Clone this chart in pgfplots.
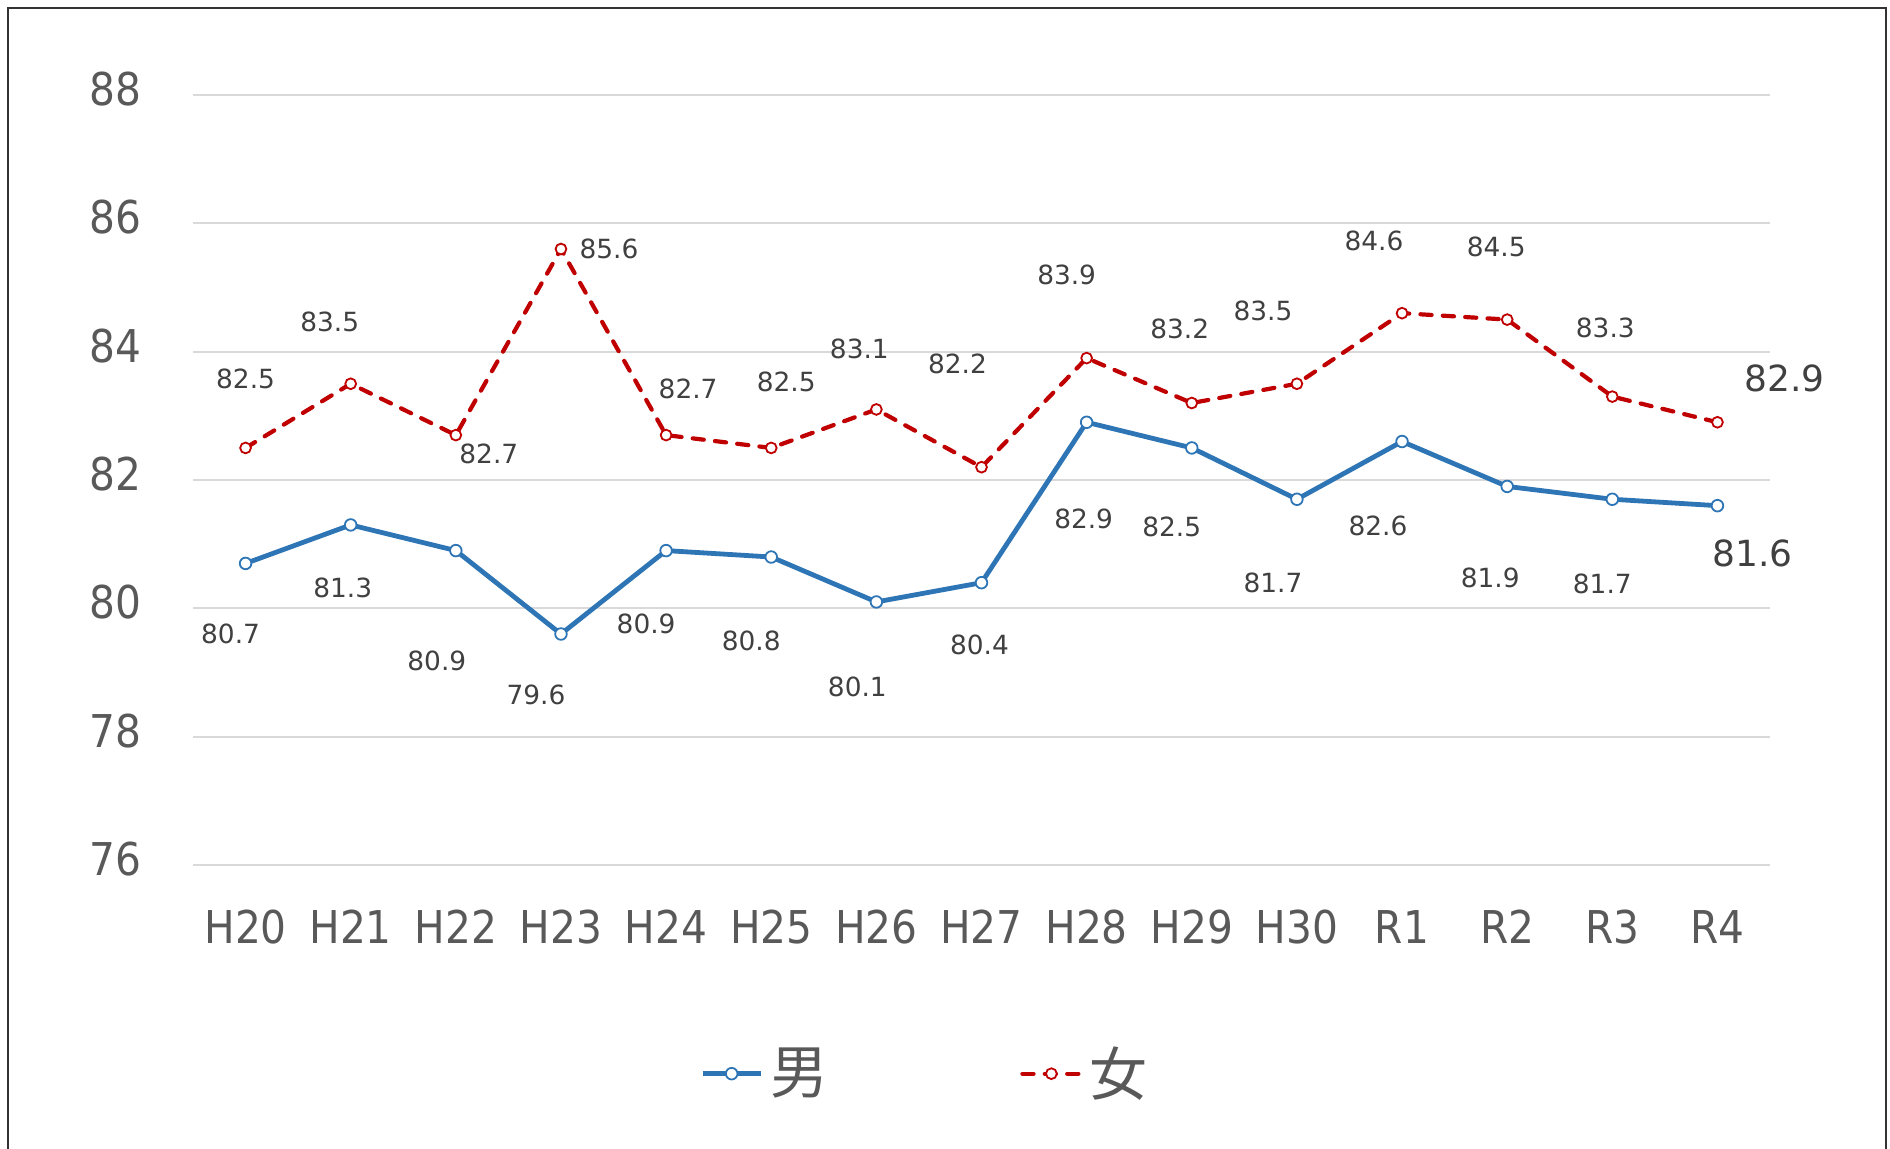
\documentclass[border=0pt]{standalone}
\usepackage{fontspec}
\setmainfont{DejaVu Sans}
\newfontfamily\condfont{DejaVu Sans Condensed}
\newfontfamily\cjk{Noto Sans CJK JP}
\usepackage{pgfplots}
\usepackage{pgfplotstable}
\pgfplotsset{compat=1.18}
\definecolor{cblue}{HTML}{2E75B6}
\definecolor{cred}{HTML}{C00000}
\definecolor{cgrid}{HTML}{D9D9D9}
\definecolor{ctick}{HTML}{595959}
\definecolor{clab}{HTML}{404040}

\pgfplotstableread{
x y dx dy fs
0 80.7 -3.75 -17.5 6.6
1 81.3 -2 -15.75 6.6
2 80.9 -4.75 -27.5 6.6
3 79.6 -6.25 -15.25 6.6
4 80.9 -5 -18.25 6.6
5 80.8 -5 -21 6.6
6 80.1 -4.75 -21.25 6.6
7 80.4 -0.5 -15.5 6.6
8 82.9 -0.75 -24.25 6.6
9 82.5 -5 -19.75 6.6
10 81.7 -6 -21 6.6
11 82.6 -6 -21 6.6
12 81.9 -4.25 -22.75 6.6
13 81.7 -2.5 -21.25 6.6
14 81.6 8.75 -12 9
}\male

\pgfplotstableread{
x y dx dy fs
0 82.5 0 17.25 6.6
1 83.5 -5.25 15.5 6.6
2 82.7 8.25 -4.75 6.6
3 85.6 12 0 6.6
4 82.7 5.5 11.5 6.6
5 82.5 3.75 16.5 6.6
6 83.1 -4.25 15.25 6.6
7 82.2 -6 25.75 6.6
8 83.9 -5 20.75 6.6
9 83.2 -3 18.5 6.6
10 83.5 -8.5 18.25 6.6
11 84.6 -7 18 6.6
12 84.5 -2.75 18.25 6.6
13 83.3 -1.75 17.25 6.6
14 82.9 16.75 11 9
}\female

\begin{document}
\begin{tikzpicture}
\useasboundingbox (-48.25pt,-70.75pt) rectangle (424.25pt,216.25pt);
\draw[line width=0.6pt, black!80] (-46.25pt,-71pt) -- (-46.25pt,214.25pt) -- (423.25pt,214.25pt) -- (423.25pt,-71pt);
\begin{axis}[
  at={(0pt,0pt)}, anchor=south west,
  scale only axis,
  width=394.25pt, height=192.5pt,
  xmin=-0.5, xmax=14.5, ymin=76, ymax=88,
  xtick={0,...,14},
  xticklabels={H20,H21,H22,H23,H24,H25,H26,H27,H28,H29,H30,R1,R2,R3,R4},
  ytick={76,78,...,88},
  ymajorgrids,
  grid style={color=cgrid, line width=0.5pt},
  axis line style={draw=none},
  major tick length=0pt,
  clip=false,
  /pgf/number format/assume math mode=true,
  xticklabel style={font=\condfont\fontsize{11.3}{12}\selectfont, text=ctick, anchor=north, inner sep=0pt, yshift=-11.15pt},
  yticklabel style={font=\condfont\fontsize{11.3}{12}\selectfont, text=ctick, anchor=east, inner sep=0pt, xshift=-12.75pt, yshift=1.5pt},
  legend columns=2,
  legend style={at={(0.4658,-0.271)}, anchor=center, draw=none, fill=none,
    font=\cjk\fontsize{14.5}{15}\selectfont, text=ctick,
    /tikz/every even column/.append style={column sep=46.2pt},
    nodes={inner sep=1.8pt}},
  legend image code/.code={\draw[#1, mark repeat=2, mark phase=2] plot coordinates {(0pt,0pt) (7.25pt,0pt) (14.5pt,0pt)};},
  every node near coord/.append style={anchor=center, inner sep=0pt, text=clab},
]
\addplot[color=cblue, line width=1.2pt, line join=round,
  mark=*, mark size=1.45pt, mark options={fill=white, draw=cblue, line width=0.45pt, solid},
  visualization depends on={\thisrow{dx}\as\dx},
  visualization depends on={\thisrow{dy}\as\dy},
  visualization depends on={\thisrow{fs}\as\fs},
  nodes near coords={\fontsize{\fs}{\fs}\selectfont\pgfmathprintnumber[fixed,fixed zerofill,precision=1]{\pgfplotspointmeta}},
  every node near coord/.append style={xshift=\dx pt, yshift=\dy pt},
] table[x=x,y=y]{\male};
\addlegendentry{男}
\addplot[color=cred, line width=1.05pt, line cap=round, dash pattern=on 2.8pt off 2.8pt,
  mark=*, mark size=1.35pt, mark options={fill=white, draw=cred, line width=0.45pt, solid},
  visualization depends on={\thisrow{dx}\as\dx},
  visualization depends on={\thisrow{dy}\as\dy},
  visualization depends on={\thisrow{fs}\as\fs},
  nodes near coords={\fontsize{\fs}{\fs}\selectfont\pgfmathprintnumber[fixed,fixed zerofill,precision=1]{\pgfplotspointmeta}},
  every node near coord/.append style={xshift=\dx pt, yshift=\dy pt},
] table[x=x,y=y]{\female};
\addlegendentry{女}
\end{axis}
\end{tikzpicture}
\end{document}
